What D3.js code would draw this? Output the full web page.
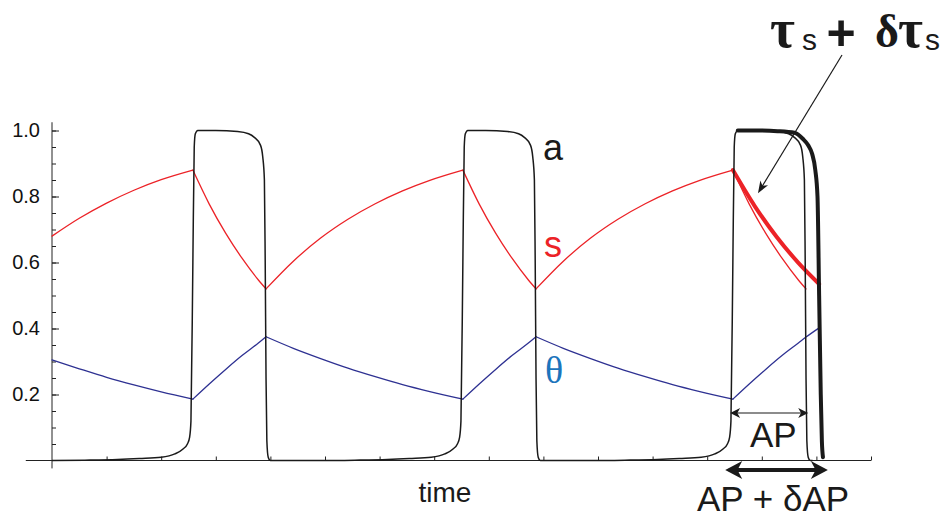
<!DOCTYPE html>
<html>
<head>
<meta charset="utf-8">
<script src="https://cdn.jsdelivr.net/npm/d3@7"></script>
<style>
  html, body { margin: 0; padding: 0; background: #fff; }
  svg { display: block; }
  text { font-family: "Liberation Sans", Arial, Helvetica, sans-serif; }
</style>
</head>
<body>
<div id="chart"></div>
<script>
"use strict";

// values, time in tick units
const yTicks = [0.2, 0.4, 0.6, 0.8, 1.0];

const aCurve = [
  [0, 0], [0.6, 0.001], [1.2, 0.003], [1.6, 0.006], [2.0, 0.010], [2.25, 0.02], [2.4, 0.035], [2.48, 0.05],
  [2.52, 0.07], [2.545, 0.12], [2.58, 0.6], [2.605, 0.95], [2.625, 0.99], [2.67, 1.0], [3.0, 1.0], [3.4, 0.997],
  [3.6, 0.99], [3.7, 0.98], [3.82, 0.955], [3.86, 0.92], [3.89, 0.85], [3.905, 0.6], [3.92, 0.25], [3.935, 0.06],
  [3.96, 0.01], [4.0, 0],
  [4.945, 0], [5.545, 0.001], [6.145, 0.003], [6.545, 0.006], [6.945, 0.010], [7.195, 0.02], [7.345, 0.035],
  [7.425, 0.05], [7.465, 0.07], [7.49, 0.12], [7.525, 0.6], [7.55, 0.95], [7.57, 0.99], [7.615, 1.0], [7.945, 1.0],
  [8.345, 0.997], [8.545, 0.99], [8.645, 0.98], [8.765, 0.955], [8.805, 0.92], [8.835, 0.85], [8.85, 0.6],
  [8.865, 0.25], [8.88, 0.06], [8.905, 0.01], [8.945, 0],
  [9.89, 0], [10.49, 0.001], [11.09, 0.003], [11.49, 0.006], [11.89, 0.010], [12.14, 0.02], [12.29, 0.035],
  [12.37, 0.05], [12.41, 0.07], [12.435, 0.12], [12.47, 0.6], [12.495, 0.95], [12.515, 0.99], [12.56, 1.0],
  [12.89, 1.0], [13.29, 0.997], [13.49, 0.99], [13.59, 0.98], [13.71, 0.955], [13.75, 0.92], [13.78, 0.85],
  [13.795, 0.6], [13.81, 0.25], [13.825, 0.06], [13.85, 0.01], [13.89, 0], [13.93, 0]
];

// longer action potential (thick)
const aLong = [
  [12.56, 1.0], [12.89, 1.0], [13.29, 0.998], [13.6, 0.993], [13.75, 0.975], [13.85, 0.955], [13.92, 0.93],
  [13.98, 0.88], [14.02, 0.8], [14.05, 0.5], [14.08, 0.2], [14.1, 0.06], [14.12, 0.01]
];

const sCurve = [
  [0, 0.68], [0.5, 0.734], [1.0, 0.780], [1.5, 0.819], [2.0, 0.851], [2.58, 0.88],
  [2.88, 0.777], [3.18, 0.689], [3.48, 0.613], [3.78, 0.547], [3.92, 0.52],
  [4.42, 0.604], [4.92, 0.674], [5.42, 0.731], [5.92, 0.778], [6.42, 0.817], [6.92, 0.849], [7.525, 0.88],
  [7.825, 0.777], [8.125, 0.689], [8.425, 0.613], [8.725, 0.547], [8.865, 0.52],
  [9.365, 0.604], [9.865, 0.674], [10.365, 0.731], [10.865, 0.778], [11.365, 0.817], [11.865, 0.849], [12.47, 0.88],
  [12.77, 0.777], [13.07, 0.689], [13.37, 0.613], [13.67, 0.547], [13.81, 0.52]
];

const sLong = [[12.47, 0.88], [12.87, 0.771], [13.27, 0.678], [13.67, 0.599], [14.05, 0.535]];

const thetaCurve = [
  [0, 0.305], [0.5, 0.278], [1.0, 0.252], [1.5, 0.229], [2.0, 0.208], [2.58, 0.186],
  [2.88, 0.232], [3.18, 0.276], [3.48, 0.318], [3.78, 0.356], [3.92, 0.375],
  [4.42, 0.340], [4.92, 0.309], [5.42, 0.280], [5.92, 0.254], [6.42, 0.230], [6.92, 0.209], [7.525, 0.186],
  [7.825, 0.232], [8.125, 0.276], [8.425, 0.318], [8.725, 0.356], [8.865, 0.375],
  [9.365, 0.340], [9.865, 0.309], [10.365, 0.280], [10.865, 0.254], [11.365, 0.230], [11.865, 0.209], [12.47, 0.186],
  [12.77, 0.232], [13.07, 0.276], [13.37, 0.318], [13.67, 0.356], [13.81, 0.374], [14.05, 0.402]
];

// AP spans for the arrows
const apSpan = [12.42, 13.85];
const apLongSpan = [12.33, 14.21];
const pointerTip = [12.93, 0.81];

const width = 941, height = 518;

const svg = d3.select("#chart").append("svg")
  .attr("width", width)
  .attr("height", height);

const x = d3.scaleLinear().domain([0, 15]).range([52, 871]);
const y = d3.scaleLinear().domain([0, 1]).range([460.5, 130.5]);

const axisColor = "#222";

// axes lines
svg.append("line")
  .attr("x1", x(-0.48)).attr("x2", x(15))
  .attr("y1", y(0)).attr("y2", y(0))
  .attr("stroke", axisColor).attr("stroke-width", 1);
svg.append("line")
  .attr("x1", x(0)).attr("x2", x(0))
  .attr("y1", y(-0.024)).attr("y2", y(1.025))
  .attr("stroke", axisColor).attr("stroke-width", 1);

const yMinor = svg.append("g")
  .attr("transform", `translate(${x(0)},0)`)
  .call(d3.axisLeft(y).tickValues(d3.range(1, 21).map(d => d * 0.05)).tickSize(-4).tickFormat(""));
yMinor.select(".domain").remove();

const yMajor = svg.append("g")
  .attr("transform", `translate(${x(0)},0)`)
  .call(d3.axisLeft(y).tickValues(yTicks).tickSize(-7).tickPadding(12).tickFormat(d3.format(".1f")));
yMajor.select(".domain").remove();
yMajor.selectAll("text").attr("font-size", 20).attr("fill", "#111")
  .style("font-family", "'Liberation Sans', Arial, sans-serif");

const xAx = svg.append("g")
  .attr("transform", `translate(0,${y(0)})`)
  .call(d3.axisBottom(x).tickValues(d3.range(1, 16)).tickSize(-4).tickFormat(""));
xAx.select(".domain").remove();

svg.selectAll(".tick line").attr("stroke", axisColor);

// split a series into monotone runs so corners stay sharp
const monotoneRuns = (pts) => {
  const runs = [];
  let cur = [pts[0]], dir = 0;
  for (let i = 1; i < pts.length; i++) {
    const d = Math.sign(pts[i][1] - pts[i - 1][1]);
    if (dir !== 0 && d !== 0 && d !== dir) {
      runs.push(cur);
      cur = [pts[i - 1]];
    }
    if (d !== 0) dir = d;
    cur.push(pts[i]);
  }
  runs.push(cur);
  return runs;
};

const line = d3.line()
  .x(d => x(d[0]))
  .y(d => y(d[1]))
  .curve(d3.curveMonotoneX);

const drawRuns = (pts, color, w) => {
  svg.append("g").selectAll("path")
    .data(monotoneRuns(pts))
    .enter()
    .append("path")
    .attr("d", line)
    .attr("fill", "none")
    .attr("stroke", color)
    .attr("stroke-width", w)
    .attr("stroke-linejoin", "round")
    .attr("stroke-linecap", "round");
};

const red = "#ec2227", navy = "#2e3192", black = "#1a1a1a";

drawRuns(sCurve, red, 1.3);
drawRuns(thetaCurve, navy, 1.3);
drawRuns(sLong, red, 4);

svg.append("path").datum(aCurve)
  .attr("d", line).attr("fill", "none")
  .attr("stroke", black).attr("stroke-width", 1.5);
svg.append("path").datum(aLong)
  .attr("d", line).attr("fill", "none")
  .attr("stroke", black).attr("stroke-width", 4)
  .attr("stroke-linecap", "round");

// arrow heads
const arrowHead = (px, py, angle, len, half) => {
  const notch = len * 0.72;
  svg.append("path")
    .attr("d", `M0,0L${-len},${-half}L${-notch},0L${-len},${half}Z`)
    .attr("transform", `translate(${px},${py}) rotate(${angle})`)
    .attr("fill", black);
};

// AP arrow (thin, double)
const apY = 413;
svg.append("line")
  .attr("x1", x(apSpan[0]) + 3).attr("x2", x(apSpan[1]) - 3)
  .attr("y1", apY).attr("y2", apY)
  .attr("stroke", black).attr("stroke-width", 1.2);
arrowHead(x(apSpan[0]), apY, 180, 10, 5);
arrowHead(x(apSpan[1]), apY, 0, 10, 5);

// AP + dAP arrow (thick, double)
const apLongY = 470;
svg.append("line")
  .attr("x1", x(apLongSpan[0]) + 8).attr("x2", x(apLongSpan[1]) - 8)
  .attr("y1", apLongY).attr("y2", apLongY)
  .attr("stroke", black).attr("stroke-width", 4);
arrowHead(x(apLongSpan[0]), apLongY, 180, 17, 9);
arrowHead(x(apLongSpan[1]), apLongY, 0, 17, 9);

// pointer to the slower s decay
const tail = [842, 55];
const tip = [x(pointerTip[0]), y(pointerTip[1])];
const ang = Math.atan2(tip[1] - tail[1], tip[0] - tail[0]) * 180 / Math.PI;
svg.append("line")
  .attr("x1", tail[0]).attr("y1", tail[1])
  .attr("x2", tip[0] - 6 * Math.cos(ang * Math.PI / 180))
  .attr("y2", tip[1] - 6 * Math.sin(ang * Math.PI / 180))
  .attr("stroke", black).attr("stroke-width", 1.2);
arrowHead(tip[0], tip[1], ang, 12, 4.5);

// labels
const label = (txt, lx, ly, size, color, family, weight, anchor) => {
  svg.append("text")
    .attr("x", lx).attr("y", ly)
    .attr("font-size", size)
    .attr("fill", color || black)
    .attr("font-weight", weight || "normal")
    .attr("text-anchor", anchor || "start")
    .style("font-family", family || "'Liberation Sans', Arial, sans-serif")
    .text(txt);
};

const serif = "'Liberation Serif', 'Times New Roman', serif";

label("a", 543, 160, 36);
label("s", 544, 257, 36, red);
label("\u03b8", 545, 383, 38, "#1c75bc", serif);
label("time", 445, 502, 28, black, null, null, "middle");
label("AP", 750, 447, 35);
label("AP + \u03b4AP", 697, 511, 35);

label("\u03c4", 770, 47, 54, black, serif, "bold");
label("s", 802, 50, 30);
label("+", 841, 50, 50, black, null, "bold", "middle");
label("\u03b4", 875, 47, 46, black, serif, "bold");
label("\u03c4", 898, 47, 54, black, serif, "bold");
label("s", 925, 50, 30);
</script>
</body>
</html>
